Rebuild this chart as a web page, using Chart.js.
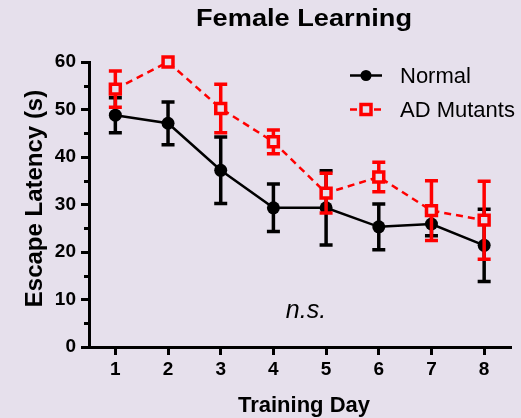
<!DOCTYPE html>
<html>
<head>
<meta charset="utf-8">
<script src="https://cdn.jsdelivr.net/npm/chart.js@4/dist/chart.umd.min.js"></script>
<style>
  html, body { margin: 0; padding: 0; background: #e6e0ec; }
  canvas { display: block; }
</style>
</head>
<body>
<canvas id="c" width="521" height="418"></canvas>
<script>
// Training days and mean escape latency (s) with SEM for each group
const days = [1, 2, 3, 4, 5, 6, 7, 8];
const normalMean = [48.8, 47.1, 37.2, 29.3, 29.3, 25.3, 25.9, 21.4];
const normalErr  = [3.7, 4.5, 7.0, 5.0, 7.8, 4.8, 2.5, 7.6];
const adMean     = [54.3, 60.0, 50.2, 43.2, 32.4, 35.8, 28.7, 26.7];
const adErr      = [3.8, 0.0, 5.1, 2.5, 4.2, 3.1, 6.3, 8.2];
const yTicks     = [0, 10, 20, 30, 40, 50, 60];
const yMinorTicks = [5, 15, 25, 35, 45, 55];

const BG = '#e6e0ec';
const FONT = "'Liberation Sans', Arial, Helvetica, sans-serif";

const bgPlugin = {
  id: 'bg',
  beforeDraw(chart) {
    const ctx = chart.ctx;
    ctx.save();
    ctx.fillStyle = BG;
    ctx.fillRect(0, 0, chart.width, chart.height);
    ctx.restore();
  }
};

// SEM whiskers with caps, drawn beneath each dataset's own line and markers
const errorBars = {
  id: 'errorBars',
  beforeDatasetDraw(chart, args) {
    const ds = chart.data.datasets[args.index];
    const xs = chart.scales.x, ys = chart.scales.y;
    const ctx = chart.ctx;
    ctx.save();
    ctx.strokeStyle = ds.borderColor;
    ctx.lineWidth = 3.5;
    ctx.lineCap = 'butt';
    ds.data.forEach((p, i) => {
      const e = ds.errors[i];
      if (!e) return;
      const x = xs.getPixelForValue(p.x);
      const yt = ys.getPixelForValue(p.y + e);
      const yb = ys.getPixelForValue(p.y - e);
      ctx.beginPath();
      ctx.moveTo(x, yt); ctx.lineTo(x, yb);
      ctx.moveTo(x - 6.5, yt); ctx.lineTo(x + 6.5, yt);
      ctx.moveTo(x - 6.5, yb); ctx.lineTo(x + 6.5, yb);
      ctx.stroke();
    });
    ctx.restore();
  }
};

// Minor y ticks, titles, legend and annotation
const decorations = {
  id: 'decorations',
  afterDraw(chart) {
    const ctx = chart.ctx;
    const ys = chart.scales.y;
    const left = chart.chartArea.left;
    ctx.save();
    ctx.strokeStyle = '#000';
    ctx.lineWidth = 3;
    yMinorTicks.forEach(v => {
      const y = Math.round(ys.getPixelForValue(v)) + 0.5;
      ctx.beginPath();
      ctx.moveTo(left - 5, y); ctx.lineTo(left, y);
      ctx.stroke();
    });

    ctx.fillStyle = '#000';
    // chart title, widened to its drawn width
    ctx.font = `bold 23px ${FONT}`;
    ctx.textAlign = 'center';
    ctx.textBaseline = 'alphabetic';
    const title = 'Female Learning';
    const tw = ctx.measureText(title).width;
    ctx.save();
    ctx.translate(304, 26);
    ctx.scale(216 / tw, 1);
    ctx.fillText(title, 0, 0);
    ctx.restore();

    // x axis title
    ctx.font = `bold 22px ${FONT}`;
    ctx.fillText('Training Day', 304, 411.5);

    // y axis title
    ctx.save();
    ctx.translate(41.5, 198.5);
    ctx.rotate(-Math.PI / 2);
    ctx.font = `bold 24px ${FONT}`;
    ctx.fillText('Escape Latency (s)', 0, 0);
    ctx.restore();

    // significance note
    ctx.font = `italic 25px ${FONT}`;
    ctx.fillText('n.s.', 306, 318);

    // legend
    const rows = [
      { ds: chart.data.datasets[0], y: 75.5, ty: 77 },
      { ds: chart.data.datasets[1], y: 109.5, ty: 111 }
    ];
    rows.forEach(r => {
      const ds = r.ds;
      ctx.save();
      ctx.strokeStyle = ds.borderColor;
      ctx.lineWidth = ds.borderWidth;
      ctx.setLineDash(ds.borderDash || []);
      ctx.beginPath();
      ctx.moveTo(350, r.y); ctx.lineTo(382, r.y);
      ctx.stroke();
      ctx.setLineDash([]);
      if (ds.pointStyle === 'rect') {
        const s = 5;
        ctx.fillStyle = ds.pointBackgroundColor;
        ctx.lineWidth = 3.5;
        ctx.fillRect(366 - s, r.y - s, 2 * s, 2 * s);
        ctx.strokeRect(366 - s, r.y - s, 2 * s, 2 * s);
      } else {
        ctx.fillStyle = ds.pointBackgroundColor;
        ctx.beginPath();
        ctx.arc(366, r.y, 5.5, 0, Math.PI * 2);
        ctx.fill();
      }
      ctx.restore();
      ctx.fillStyle = '#000';
      ctx.font = `22px ${FONT}`;
      ctx.textAlign = 'left';
      ctx.textBaseline = 'middle';
      ctx.fillText(ds.label, 400, r.ty);
    });
    ctx.restore();
  }
};

const axisTicks = {
  display: true,
  drawOnChartArea: false,
  drawTicks: true,
  tickLength: 8,
  tickWidth: 3,
  lineWidth: 3,
  color: '#000'
};

new Chart(document.getElementById('c'), {
  type: 'line',
  data: {
    datasets: [
      {
        label: 'Normal',
        data: days.map((d, i) => ({ x: d, y: normalMean[i] })),
        errors: normalErr,
        borderColor: '#000000',
        borderWidth: 2.5,
        pointStyle: 'circle',
        pointRadius: 6.5,
        pointBorderWidth: 0,
        pointBackgroundColor: '#000000',
        clip: false,
        order: 1
      },
      {
        label: 'AD Mutants',
        data: days.map((d, i) => ({ x: d, y: adMean[i] })),
        errors: adErr,
        borderColor: '#ff0000',
        borderWidth: 2.5,
        borderDash: [7, 5],
        pointStyle: 'rect',
        pointRadius: 7,
        pointBorderWidth: 3.5,
        pointBorderColor: '#ff0000',
        pointBackgroundColor: BG,
        clip: false,
        order: 0
      }
    ]
  },
  options: {
    responsive: false,
    animation: false,
    events: [],
    layout: { padding: { top: 62, right: 3, left: 0, bottom: 0 } },
    plugins: {
      legend: { display: false },
      tooltip: { enabled: false },
      title: { display: false }
    },
    scales: {
      x: {
        type: 'linear',
        min: 0.5,
        max: 8.5,
        afterBuildTicks(scale) { scale.ticks = days.map(v => ({ value: v })); },
        afterFit(scale) { scale.height = 71; },
        grid: axisTicks,
        border: { display: true, width: 3, color: '#000' },
        ticks: {
          color: '#000',
          padding: 3,
          font: { family: FONT, size: 19, weight: 'bold' }
        }
      },
      y: {
        type: 'linear',
        min: 0,
        max: 60,
        afterBuildTicks(scale) { scale.ticks = yTicks.map(v => ({ value: v })); },
        afterFit(scale) { scale.width = 89; },
        grid: axisTicks,
        border: { display: true, width: 3, color: '#000' },
        ticks: {
          color: '#000',
          padding: 5,
          font: { family: FONT, size: 19, weight: 'bold' }
        }
      }
    }
  },
  plugins: [bgPlugin, errorBars, decorations]
});
</script>
</body>
</html>
